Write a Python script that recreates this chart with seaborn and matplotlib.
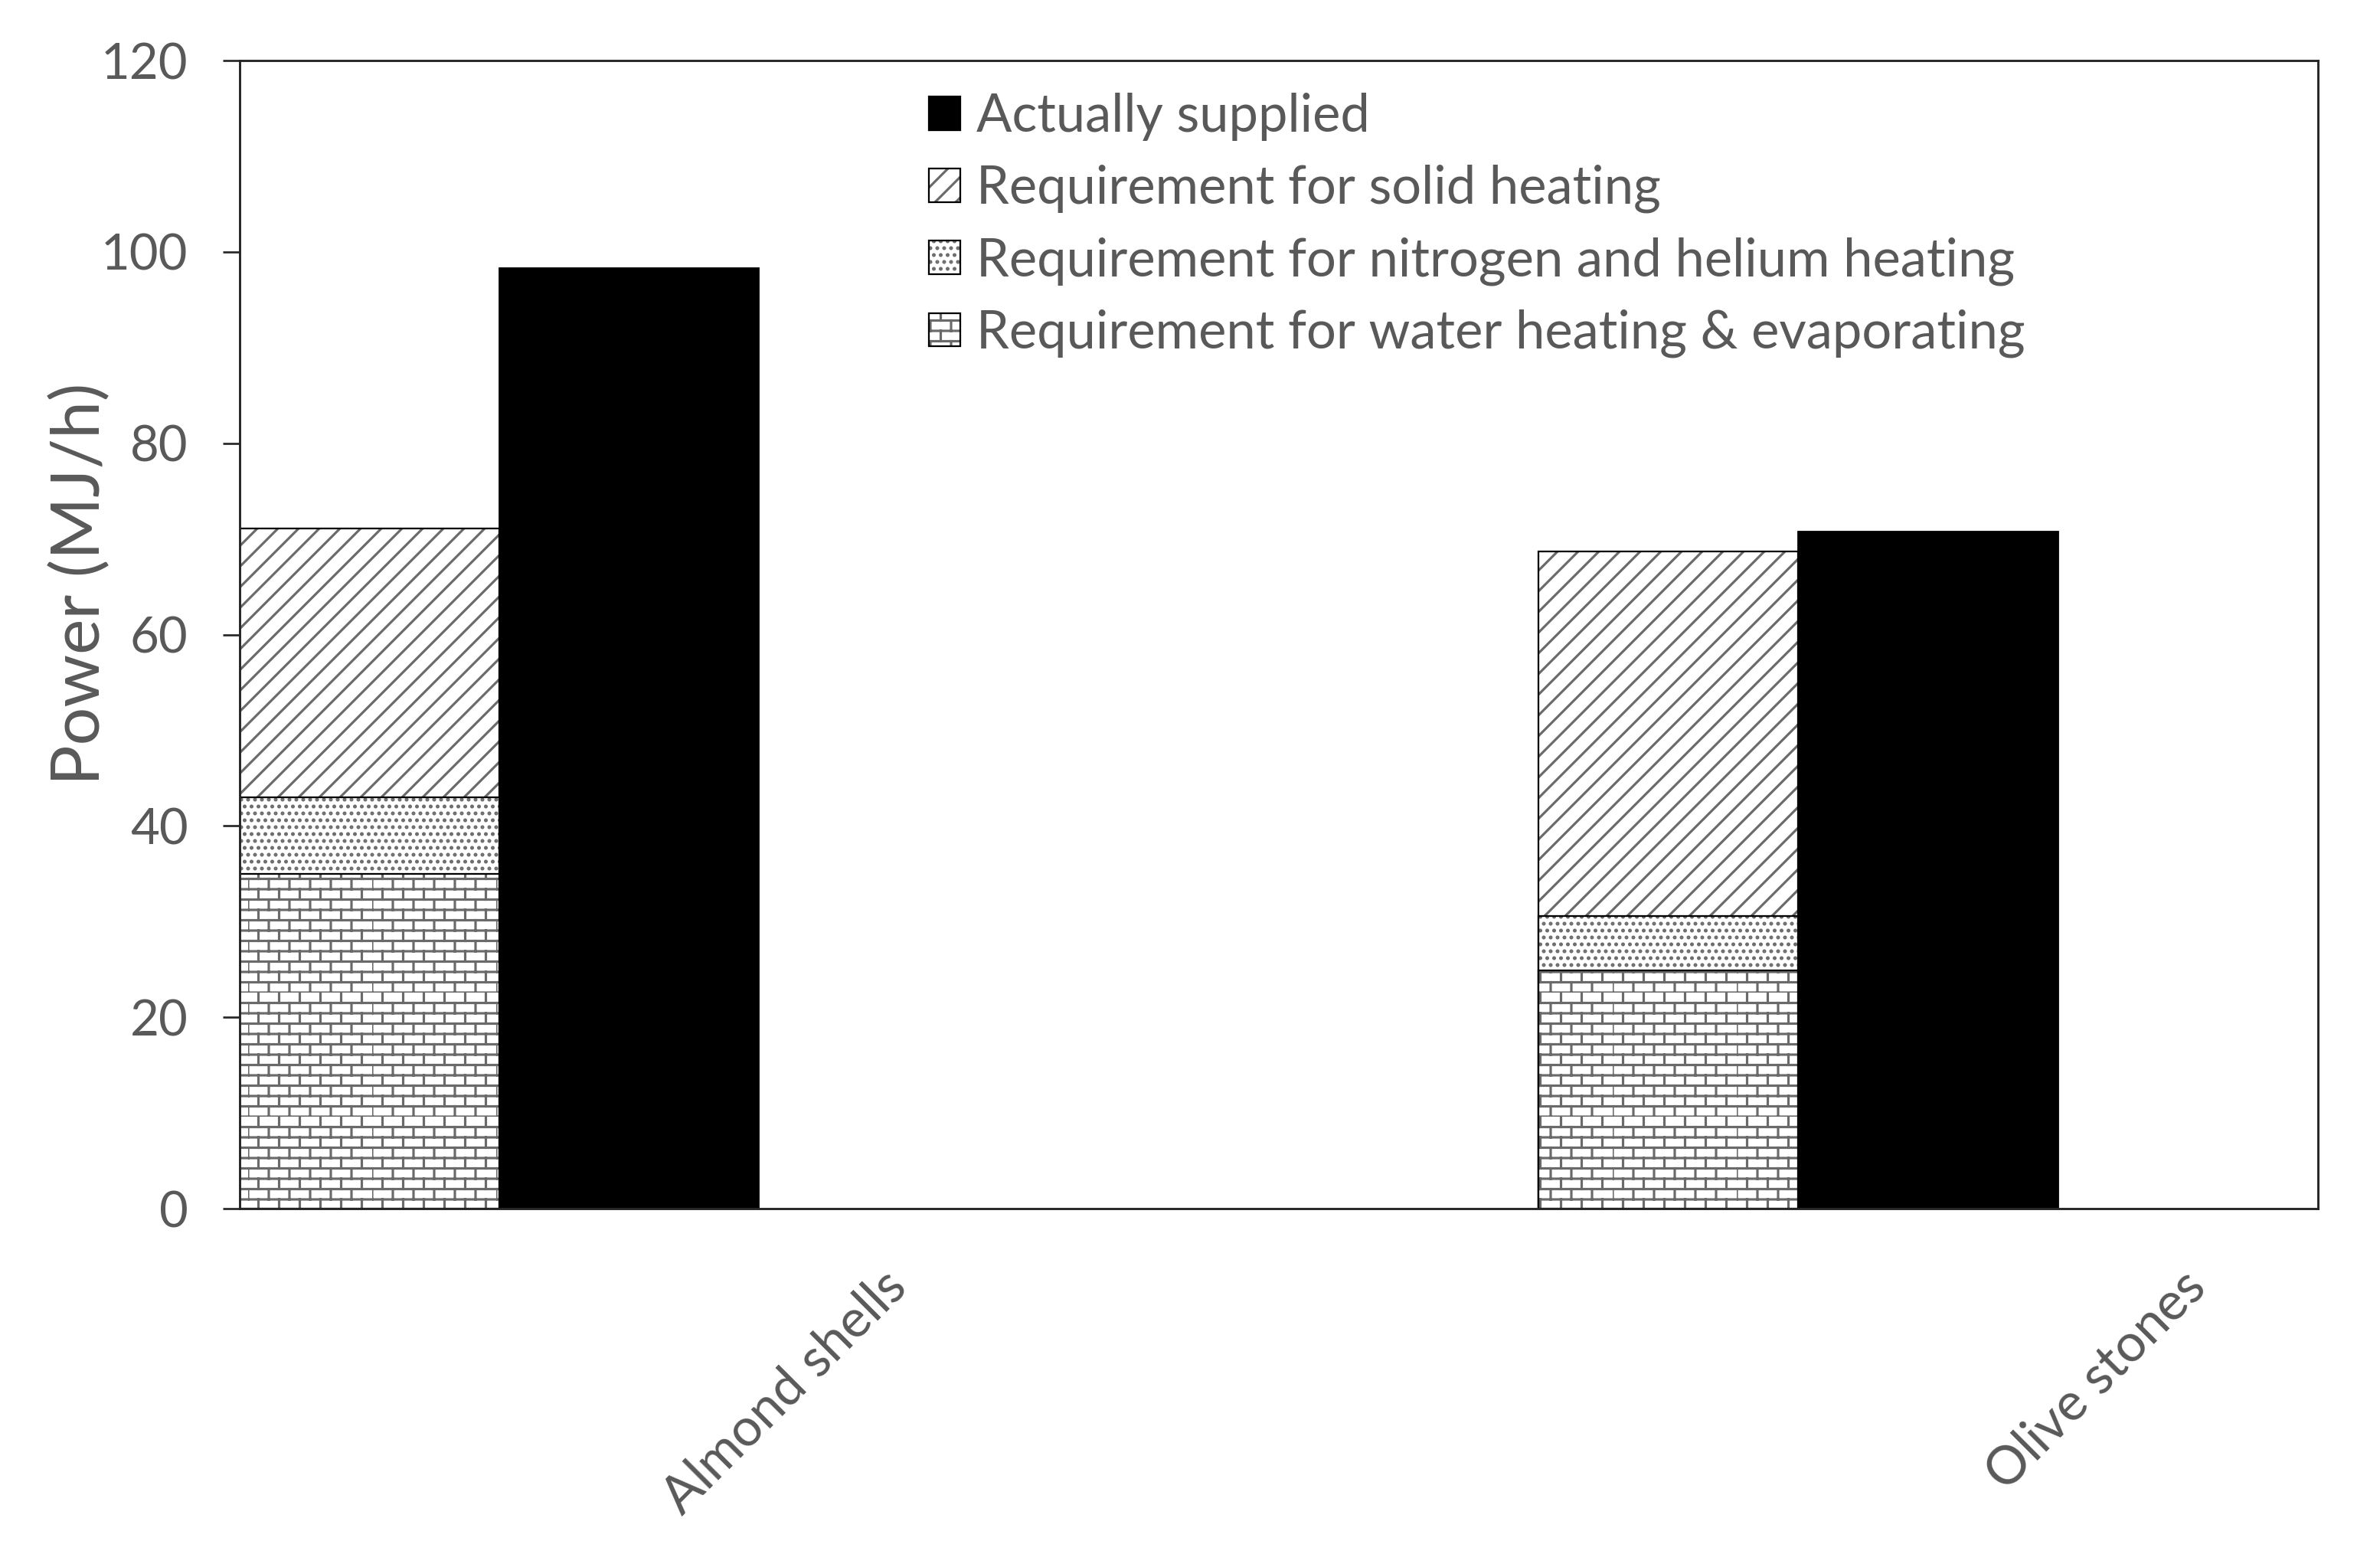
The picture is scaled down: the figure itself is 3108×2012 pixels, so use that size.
import warnings
import numpy as np
import matplotlib
matplotlib.use("Agg")
import matplotlib.pyplot as plt
import matplotlib.hatch as mhatch
from matplotlib.path import Path
from matplotlib.patches import Patch
import seaborn as sns

warnings.filterwarnings("ignore", message=".*hatch must consist.*")

# data (MJ/h)
categories = ["Almond shells", "Olive stones"]
water_heating = [35.0, 24.9]
gas_heating = [8.0, 5.7]
solid_heating = [28.1, 38.1]
actually_supplied = [98.3, 70.8]

legend_labels = [
    "Actually supplied",
    "Requirement for solid heating",
    "Requirement for nitrogen and helium heating",
    "Requirement for water heating & evaporating",
]


# brick hatch ('b'), matplotlib has none built in
class BrickHatch(mhatch.HatchPatternBase):
    def __init__(self, hatch, density):
        self.num_rows = 2 * hatch.count("b") * density
        self.num_cols = self.num_rows // 2
        self.num_vertices = 2 * self.num_rows * (1 + self.num_cols)

    def set_vertices_and_codes(self, vertices, codes):
        rows, cols = self.num_rows, self.num_cols
        k = 0
        for i in range(rows):
            y0 = i / rows
            vertices[k] = (0, y0)
            vertices[k + 1] = (1, y0)
            k += 2
            shift = 0.5 / cols if i % 2 else 0.0
            for j in range(cols):
                xx = j / cols + shift
                vertices[k] = (xx, y0)
                vertices[k + 1] = (xx, y0 + 1 / rows)
                k += 2
        codes[0::2] = Path.MOVETO
        codes[1::2] = Path.LINETO


mhatch._hatch_types.append(BrickHatch)

sns.set_theme(style="white")
plt.rcParams["font.family"] = ["Lato", "DejaVu Sans"]
plt.rcParams["hatch.linewidth"] = 1.4

TEXT = "#595959"
HATCH = "#6a6a6a"
DPI = 162
FS = 30.5

fig = plt.figure(figsize=(3108 / DPI, 2012 / DPI), dpi=DPI)
ax = fig.add_axes([0.1007, 0.2157, 0.8732, 0.745])

# positions: groups 5 bar-widths apart, stacked bar then supplied bar
group = np.arange(len(categories)) * 5.0
x_req = group + 0.5
x_sup = group + 1.5

cum_gas = np.add(water_heating, gas_heating)
cum_solid = cum_gas + np.array(solid_heating)


def hatched_bar(x, y, hatch):
    sns.barplot(x=x, y=y, native_scale=True, orient="x", width=0.2,
                color="white", saturation=1, edgecolor=HATCH, linewidth=0,
                hatch=hatch, errorbar=None, ax=ax)
    sns.barplot(x=x, y=y, native_scale=True, orient="x", width=0.2,
                fill=False, color="black", linewidth=1.0, errorbar=None, ax=ax)


# stacked requirement bar, drawn from the top layer down
hatched_bar(x_req, cum_solid, "//")
hatched_bar(x_req, cum_gas, "...")
hatched_bar(x_req, water_heating, "b")

# actually supplied
sns.barplot(x=x_sup, y=actually_supplied, native_scale=True, orient="x", width=0.2,
            color="black", saturation=1, edgecolor="black", linewidth=0.8,
            errorbar=None, ax=ax)

ax.set_xlim(0, 8)
ax.set_ylim(0, 120)
ax.set_yticks(np.arange(0, 121, 20))
ax.set_xticks(group + 2.47)
ax.set_xticklabels(categories, rotation=45, ha="right", rotation_mode="anchor")

ax.tick_params(axis="y", left=True, direction="out", length=10, width=1.2,
               color="#262626", pad=20, labelsize=29, labelcolor=TEXT)
ax.tick_params(axis="x", bottom=False, length=0, pad=31, labelsize=FS,
               labelcolor=TEXT)

for s in ax.spines.values():
    s.set_visible(True)
    s.set_color("#262626")
    s.set_linewidth(1.3)

ax.set_xlabel("")
ax.set_ylabel("Power (MJ/h)", fontsize=39, color=TEXT)
ax.yaxis.set_label_coords(-0.062, 0.544)

# legend with grey hatch + black outline
def proxy(hatch):
    return (Patch(facecolor="white", edgecolor=HATCH, linewidth=0, hatch=hatch),
            Patch(fill=False, edgecolor="black", linewidth=1.0))


handles = [
    Patch(facecolor="black", edgecolor="black"),
    proxy("//"),
    proxy("..."),
    proxy("b"),
]
leg = ax.legend(handles, legend_labels, loc="upper left",
                bbox_to_anchor=(0.3316, 0.972), frameon=False, fontsize=FS,
                handlelength=0.6, handleheight=0.6, handletextpad=0.3,
                labelspacing=0.45, borderpad=0, borderaxespad=0)
for t in leg.get_texts():
    t.set_color(TEXT)

fig.savefig("out.png", dpi=DPI)
